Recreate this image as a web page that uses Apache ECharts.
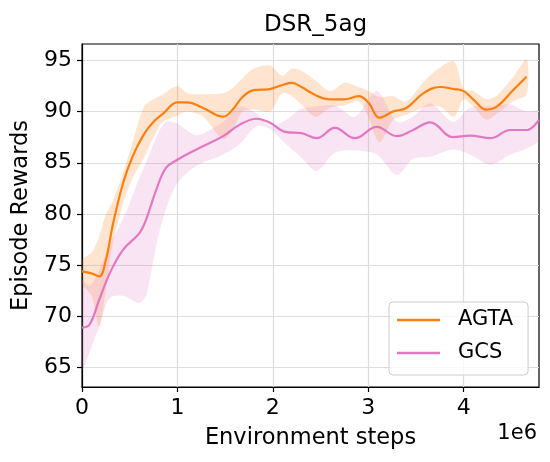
<!DOCTYPE html>
<html>
<head>
<meta charset="UTF-8">
<title>DSR_5ag</title>
<style>
    html, body { margin: 0; padding: 0; background: #fff; }
    #chart { width: 550px; height: 462px; }
</style>
<script src="https://cdn.jsdelivr.net/npm/echarts@6.0.0/dist/echarts.min.js"></script>
</head>
<body>
<div id="chart"></div>
<script>
    // x values are environment steps in units of 1e6
    const agtaSteps = [0, 0.1, 0.18, 0.25, 0.32, 0.43, 0.53, 0.65, 0.75, 0.85, 1.0, 1.1, 1.27, 1.48, 1.58, 1.68, 1.8, 1.97, 2.1, 2.2, 2.3, 2.45, 2.6, 2.75, 2.9, 3.0, 3.12, 3.26, 3.4, 3.58, 3.75, 3.9, 4.0, 4.1, 4.24, 4.35, 4.52, 4.66];
    const agtaMean = [74.4, 74.2, 73.9, 75.5, 78.8, 83.0, 85.6, 87.8, 89.0, 89.8, 90.9, 90.9, 90.35, 89.5, 90.2, 91.4, 92.1, 92.2, 92.6, 92.8, 92.4, 91.6, 91.2, 91.2, 91.5, 90.9, 89.4, 90.0, 90.35, 91.8, 92.4, 92.2, 92.0, 91.2, 90.2, 90.5, 92.1, 93.4];
    const agtaUpper = [75.5, 76.2, 77.8, 80.0, 81.2, 84.0, 87.0, 90.5, 91.2, 91.7, 92.5, 91.8, 91.7, 91.8, 92.3, 93.2, 94.2, 94.5, 93.5, 94.2, 94.0, 93.0, 92.0, 92.8, 92.4, 92.0, 91.4, 91.5, 91.0, 92.9, 94.3, 94.9, 92.2, 92.0, 91.2, 91.6, 93.4, 95.1];
    const agtaLower = [73.2, 72.0, 69.0, 72.5, 77.0, 81.0, 83.5, 85.5, 87.5, 89.0, 89.6, 90.0, 89.5, 87.3, 88.2, 90.0, 90.2, 90.0, 91.8, 91.5, 90.7, 89.5, 90.4, 90.6, 91.0, 89.5, 87.0, 89.2, 89.7, 90.4, 90.5, 89.5, 91.2, 90.5, 89.2, 89.8, 91.0, 91.7];

    const gcsSteps = [0, 0.08, 0.18, 0.29, 0.43, 0.6, 0.67, 0.78, 0.88, 1.0, 1.2, 1.48, 1.65, 1.83, 1.97, 2.14, 2.3, 2.46, 2.65, 2.86, 3.09, 3.3, 3.47, 3.65, 3.89, 4.07, 4.28, 4.49, 4.66, 4.79];
    const gcsMean = [68.9, 69.2, 71.6, 74.2, 76.5, 78.1, 79.4, 82.4, 84.5, 85.3, 86.3, 87.6, 88.7, 89.3, 88.9, 88.0, 87.9, 87.4, 88.4, 87.4, 88.5, 87.6, 88.2, 88.95, 87.5, 87.65, 87.4, 88.2, 88.2, 89.2];
    const gcsUpper = [73.5, 73.0, 74.5, 77.0, 79.5, 83.5, 85.0, 87.5, 89.0, 88.8, 87.7, 89.0, 90.5, 89.8, 88.6, 89.2, 90.3, 90.5, 90.6, 89.5, 92.0, 89.0, 89.5, 90.8, 89.0, 90.4, 90.5, 90.7, 90.0, 90.0];
    const gcsLower = [64.8, 66.5, 69.0, 71.8, 72.0, 71.3, 72.0, 77.0, 80.5, 83.0, 84.7, 85.8, 86.8, 88.6, 88.3, 86.8, 85.5, 84.2, 86.0, 86.2, 85.8, 83.8, 85.4, 85.6, 86.3, 85.8, 84.8, 85.8, 86.4, 87.2];

    const xTicks = [0, 1, 2, 3, 4];
    const yTicks = [65, 70, 75, 80, 85, 90, 95];

    const FONT = '"DejaVu Sans", sans-serif';
    const ORANGE = '#ff7f0e';
    const PINK = '#e377c2';

    // shaded band between lower and upper, drawn once as a polygon
    function band(name, xs, lo, hi, fill) {
        return {
            type: 'custom',
            name: name,
            silent: true,
            clip: true,
            z: 1,
            data: xs.map((x, i) => [x, lo[i], hi[i]]),
            encode: { x: 0, y: [1, 2] },
            renderItem: function (params, api) {
                if (params.dataIndex !== 0) return null;
                const top = xs.map((x, i) => api.coord([x, hi[i]]));
                const bottom = xs.map((x, i) => api.coord([x, lo[i]])).reverse();
                return {
                    type: 'polygon',
                    shape: { points: top.concat(bottom), smooth: 0.3 },
                    style: { fill: fill }
                };
            }
        };
    }

    function line(name, xs, ys, color) {
        return {
            type: 'line',
            name: name,
            data: xs.map((x, i) => [x, ys[i]]),
            showSymbol: false,
            smooth: 0.4,
            z: 3,
            lineStyle: { color: color, width: 2.2 },
            itemStyle: { color: color }
        };
    }

    const chart = echarts.init(document.getElementById('chart'));
    chart.setOption({
        animation: false,
        title: {
            text: 'DSR_5ag',
            left: 259,
            top: 9,
            textStyle: { fontFamily: FONT, fontSize: 23, fontWeight: 'normal', color: '#000' }
        },
        grid: {
            left: 82, top: 44, width: 457, height: 343,
            show: true, borderColor: '#000', borderWidth: 1.2, backgroundColor: '#fff'
        },
        legend: {
            data: ['AGTA', 'GCS'],
            orient: 'vertical',
            left: 389,
            top: 302,
            padding: [6, 15, 10, 8],
            itemWidth: 43,
            itemHeight: 2.5,
            itemGap: 9,
            icon: 'rect',
            borderColor: '#cccccc',
            borderWidth: 1,
            borderRadius: 4,
            backgroundColor: 'rgba(255,255,255,0.8)',
            textStyle: { fontFamily: FONT, fontSize: 21, color: '#000', lineHeight: 24, padding: [0, 0, 0, 13] }
        },
        xAxis: {
            type: 'value',
            min: 0,
            max: 4.79,
            name: 'Environment steps',
            nameLocation: 'middle',
            nameGap: 40,
            nameTextStyle: { fontFamily: FONT, fontSize: 22.5, color: '#000' },
            axisLine: { show: true, onZero: false, lineStyle: { color: '#000', width: 1.2 } },
            axisTick: { show: true, length: 5, customValues: xTicks, lineStyle: { color: '#000', width: 1.2 } },
            axisLabel: { customValues: xTicks, fontFamily: FONT, fontSize: 22, color: '#000', margin: 10 },
            splitLine: { show: true, lineStyle: { color: '#dddddd', width: 1.2 } }
        },
        yAxis: {
            type: 'value',
            min: 63.1,
            max: 96.6,
            name: 'Episode Rewards',
            nameLocation: 'middle',
            nameGap: 48,
            nameTextStyle: { fontFamily: FONT, fontSize: 22.5, color: '#000' },
            axisLine: { show: true, lineStyle: { color: '#000', width: 1.2 } },
            axisTick: { show: true, length: 5, customValues: yTicks, lineStyle: { color: '#000', width: 1.2 } },
            axisLabel: { customValues: yTicks, fontFamily: FONT, fontSize: 22, color: '#000', margin: 10 },
            splitLine: { show: true, lineStyle: { color: '#dddddd', width: 1.2 } }
        },
        graphic: [{
            type: 'text',
            right: 13,
            top: 423,
            style: { text: '1e6', font: '21px "DejaVu Sans", sans-serif', fill: '#000' }
        }],
        series: [
            band('AGTA band', agtaSteps, agtaLower, agtaUpper, 'rgba(255,127,14,0.2)'),
            band('GCS band', gcsSteps, gcsLower, gcsUpper, 'rgba(227,119,194,0.2)'),
            line('AGTA', agtaSteps, agtaMean, ORANGE),
            line('GCS', gcsSteps, gcsMean, PINK)
        ]
    });
</script>
</body>
</html>
